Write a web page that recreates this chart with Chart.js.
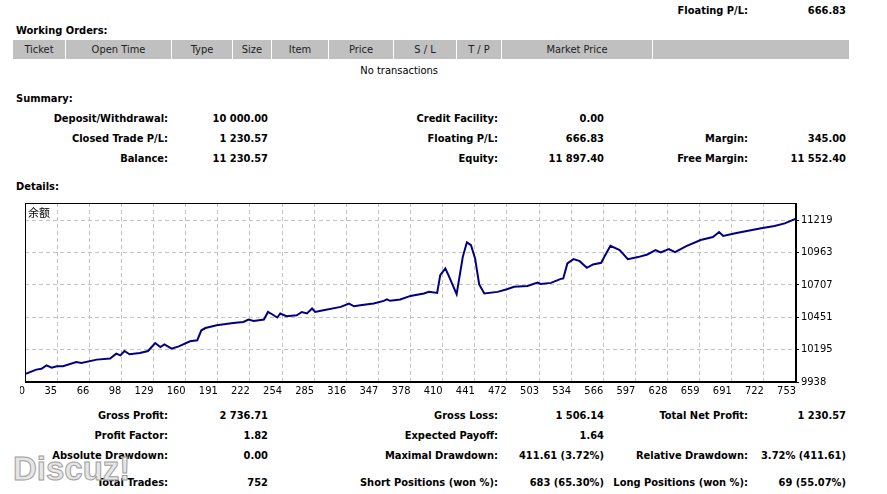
<!DOCTYPE html>
<html>
<head>
<meta charset="utf-8">
<script src="https://cdn.jsdelivr.net/npm/chart.js"></script>
<style>
  html, body { margin: 0; padding: 0; background: #fff; overflow: hidden; }
  body { width: 887px; height: 494px; position: relative; font-family: Tahoma, "DejaVu Sans Condensed", "Liberation Sans", sans-serif; font-size: 11px; color: #000; }
  .t { position: absolute; white-space: nowrap; line-height: 13px; }
  .b { font-weight: bold; }
  .hd { position: absolute; top: 40px; height: 19px; line-height: 20px; background: #c0c0c0; text-align: center; color: #222; }
  #wrap { position: absolute; left: 20px; top: 198px; width: 830px; height: 202px; }
  .wm { position: absolute; left: 13px; top: 451px; font-family: "Liberation Sans", sans-serif; font-weight: bold; font-size: 33px; line-height: 35px; color: #e6e6e6; -webkit-text-stroke: 1px #a0a0a0; }
</style>
</head>
<body>
<div class="t b" style="right:139px;top:4px">Floating P/L:</div>
<div class="t b" style="right:41px;top:4px">666.83</div>

<div class="t b" style="left:16px;top:24px">Working Orders:</div>
<div id="head"></div>
<div class="t" style="right:449px;top:64px">No transactions</div>

<div class="t b" style="left:16px;top:92px">Summary:</div>
<div id="summary"></div>

<div class="t b" style="left:16px;top:180px">Details:</div>
<div id="wrap"><canvas id="balanceChart" width="830" height="202"></canvas></div>

<div id="details"></div>
<div class="wm">Discuz!</div>

<script>
// balance curve: trade number -> balance
const tradeNo = [0, 11, 16, 21, 26, 31, 37, 50, 55, 70,
  83, 89, 93, 97, 102, 112, 120, 127, 132, 136,
  143, 150, 161, 168, 172, 176, 187, 203, 213, 218,
  223, 233, 237, 241, 246, 249, 255, 265, 270, 275,
  280, 283, 291, 308, 316, 321, 327, 340, 350, 353,
  356, 366, 376, 389, 394, 402, 405, 410, 413, 421,
  427, 431, 435, 439, 443, 448, 461, 470, 477, 490,
  500, 503, 513, 522, 525, 529, 535, 541, 548, 554,
  562, 566, 571, 580, 588, 598, 607, 615, 620, 628,
  634, 645, 659, 671, 677, 681, 694, 718, 731, 741,
  752];
const balance = [10000, 10036, 10043, 10070, 10051, 10062, 10062, 10096, 10088, 10115,
  10123, 10162, 10149, 10183, 10157, 10167, 10183, 10246, 10215, 10236,
  10202, 10220, 10260, 10268, 10347, 10365, 10387, 10405, 10413, 10432,
  10421, 10432, 10492, 10474, 10448, 10480, 10458, 10466, 10492, 10480,
  10519, 10492, 10506, 10532, 10559, 10537, 10545, 10559, 10580, 10591,
  10580, 10591, 10619, 10638, 10651, 10643, 10783, 10836, 10783, 10633,
  10928, 11043, 11021, 10916, 10710, 10638, 10651, 10672, 10691, 10698,
  10725, 10714, 10722, 10752, 10757, 10876, 10910, 10894, 10841, 10868,
  10881, 10942, 11016, 10982, 10910, 10926, 10947, 10982, 10963, 10989,
  10965, 11013, 11061, 11085, 11124, 11093, 11116, 11154, 11172, 11193,
  11230.57];
const seriesName = '余额';
const xLabels = ['0', '35', '66', '98', '129', '160', '191', '222', '254', '285', '316', '347', '378',
  '410', '441', '472', '503', '534', '566', '597', '628', '659', '691', '722', '753'];
const yTicks = [9938, 10195, 10451, 10707, 10963, 11219];
const xMax = 752;
const yMin = 9938, yMax = 11354;

const headCols = ['Ticket', 'Open Time', 'Type', 'Size', 'Item', 'Price', 'S / L', 'T / P', 'Market Price', ''];
const headEdges = [13, 65, 171, 232, 271, 328, 393, 456, 501, 652, 849];

const summaryRows = [
  [['Deposit/Withdrawal:', '10 000.00'], ['Credit Facility:', '0.00'], null],
  [['Closed Trade P/L:', '1 230.57'], ['Floating P/L:', '666.83'], ['Margin:', '345.00']],
  [['Balance:', '11 230.57'], ['Equity:', '11 897.40'], ['Free Margin:', '11 552.40']]
];
const detailRows = [
  [['Gross Profit:', '2 736.71'], ['Gross Loss:', '1 506.14'], ['Total Net Profit:', '1 230.57']],
  [['Profit Factor:', '1.82'], ['Expected Payoff:', '1.64'], null],
  [['Absolute Drawdown:', '0.00'], ['Maximal Drawdown:', '411.61 (3.72%)'], ['Relative Drawdown:', '3.72% (411.61)']],
  [['Total Trades:', '752'], ['Short Positions (won %):', '683 (65.30%)'], ['Long Positions (won %):', '69 (55.07%)']]
];
const labelRight = [168, 498, 748];
const valueRight = [268, 604, 846];

function put(parent, text, right, top, bold) {
  const d = document.createElement('div');
  d.className = 't' + (bold ? ' b' : '');
  d.style.right = (887 - right) + 'px';
  d.style.top = top + 'px';
  d.textContent = text;
  parent.appendChild(d);
}

const head = document.getElementById('head');
headCols.forEach((c, i) => {
  const d = document.createElement('div');
  d.className = 'hd';
  const l = headEdges[i] + (i ? 1 : 0);
  d.style.left = l + 'px';
  d.style.width = (headEdges[i + 1] - l) + 'px';
  d.textContent = c;
  head.appendChild(d);
});

function fillRows(id, rows, tops) {
  const el = document.getElementById(id);
  rows.forEach((row, r) => {
    row.forEach((cell, c) => {
      if (!cell) return;
      put(el, cell[0], labelRight[c], tops[r], true);
      put(el, cell[1], valueRight[c], tops[r], true);
    });
  });
}
fillRows('summary', summaryRows, [112, 132, 152]);
fillRows('details', detailRows, [409, 429, 449, 476]);

const tickFont = { family: 'Tahoma, "DejaVu Sans Condensed", "Liberation Sans", sans-serif', size: 11 };

const frame = {
  id: 'frame',
  beforeDatasetsDraw(chart) {
    const { ctx, chartArea: a } = chart;
    ctx.save();
    ctx.strokeStyle = '#000';
    ctx.lineWidth = 1;
    ctx.strokeRect(a.left + 0.5, a.top + 0.5, a.right - a.left - 1, a.bottom - a.top - 1);
    ctx.restore();
  },
  afterDraw(chart) {
    const { ctx, chartArea: a } = chart;
    ctx.save();
    ctx.fillStyle = '#000';
    ctx.font = '11px "Noto Sans CJK SC", sans-serif';
    ctx.textBaseline = 'middle';
    ctx.fillText(chart.data.datasets[0].label, a.left + 3, a.top + 10);
    ctx.restore();
  }
};

new Chart(document.getElementById('balanceChart'), {
  type: 'line',
  data: {
    datasets: [{
      label: seriesName,
      data: tradeNo.map((t, i) => ({ x: t, y: balance[i] })),
      borderColor: '#000080',
      borderWidth: 2,
      pointRadius: 0,
      tension: 0,
      fill: false
    }]
  },
  options: {
    responsive: false,
    animation: false,
    layout: { padding: { left: 5, top: 5, right: 0, bottom: 0 } },
    plugins: { legend: { display: false }, tooltip: { enabled: false } },
    scales: {
      x: {
        type: 'linear',
        min: 0,
        max: xMax,
        afterBuildTicks: s => { s.ticks = xLabels.map((l, i) => ({ value: i * xMax / (xLabels.length - 1) })); },
        afterFit: s => { s.height = 18; s.paddingLeft = 0; s.paddingRight = 0; },
        ticks: { align: 'end', padding: 3, maxRotation: 0, autoSkip: false, color: '#000', font: tickFont,
          callback: (v, i) => xLabels[i] },
        grid: { color: '#c4c4c4', drawTicks: false },
        border: { display: true, color: '#000', dash: [4, 3] }
      },
      y: {
        position: 'right',
        min: yMin,
        max: yMax,
        afterBuildTicks: s => { s.ticks = yTicks.map(v => ({ value: v })); },
        afterFit: s => { s.width = 54; s.paddingTop = 0; s.paddingBottom = 0; },
        ticks: { padding: 2, autoSkip: false, color: '#000', font: tickFont, callback: v => String(v) },
        grid: { color: '#c4c4c4', tickColor: '#000', tickLength: 3 },
        border: { display: true, color: '#000', dash: [4, 3] }
      }
    }
  },
  plugins: [frame]
});
</script>
</body>
</html>
